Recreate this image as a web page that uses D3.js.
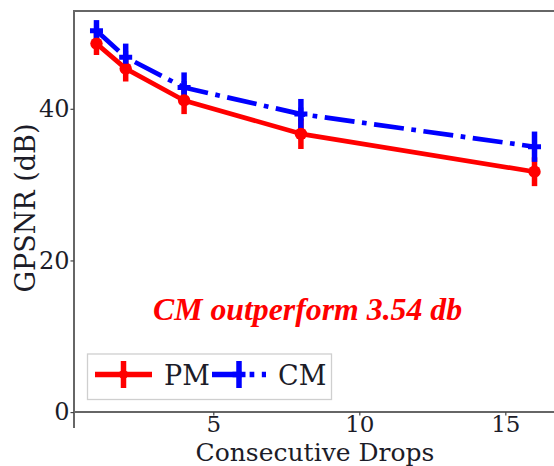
<!DOCTYPE html>
<html>
<head>
<meta charset="utf-8">
<script src="https://cdn.jsdelivr.net/npm/d3@7"></script>
<style>
  html, body { margin: 0; padding: 0; background: #fff; }
  svg { display: block; }
</style>
</head>
<body>
<svg id="chart" width="554" height="466"></svg>
<script>
// Number of consecutive dropped frames
const drops = [1, 2, 4, 8, 16];
// GPSNR (dB) per method, with +/- error
const pmValues = [48.6, 45.3, 41.1, 36.7, 31.7];
const pmErrors = [1.5, 1.7, 1.8, 2.0, 1.9];
const cmValues = [50.3, 46.8, 42.8, 39.3, 35.0];
const cmErrors = [1.4, 1.8, 2.0, 2.0, 2.0];
const xTicks = [5, 10, 15];
const yTicks = [0, 20, 40];
const seriesNames = ["PM", "CM"];

const svg = d3.select("#chart");
const W = 554, H = 466;

const x = d3.scaleLinear().domain([0.23, 16.77]).range([74, 557]);
const y = d3.scaleLinear().domain([-2.1, 52.9]).range([428, 11]);

const serif = "'DejaVu Serif', serif";
const textColor = "#1c1c28";
const spineColor = "#666";

// spines: left, top, and the x-axis drawn at y = 0
svg.append("line").attr("x1", 74).attr("x2", 74).attr("y1", y.range()[1]).attr("y2", y.range()[0])
  .attr("stroke", spineColor).attr("stroke-width", 2);
svg.append("line").attr("x1", 73).attr("x2", W).attr("y1", 11).attr("y2", 11)
  .attr("stroke", spineColor).attr("stroke-width", 2);

// x axis at zero
const xAxis = d3.axisBottom(x).tickValues(xTicks).tickSize(3.5).tickPadding(0.5).tickFormat(d3.format("d"));
const gx = svg.append("g").attr("transform", `translate(0,${y(0)})`).call(xAxis);
gx.select(".domain").attr("d", `M74,0H${W}`).attr("stroke", spineColor).attr("stroke-width", 2);
gx.selectAll(".tick line").attr("stroke", "#444").attr("stroke-width", 1.2);
gx.selectAll(".tick text").attr("font-family", serif).attr("font-size", 23).attr("fill", textColor);

// y axis
const yAxis = d3.axisLeft(y).tickValues(yTicks).tickSize(3.5).tickPadding(1).tickFormat(d3.format("d"));
const gy = svg.append("g").attr("transform", "translate(74,0)").call(yAxis);
gy.select(".domain").remove();
gy.selectAll(".tick line").attr("stroke", "#444").attr("stroke-width", 1.2);
gy.selectAll(".tick text").attr("font-family", serif).attr("font-size", 24).attr("fill", textColor);

// axis titles
svg.append("text").attr("x", 315).attr("y", 461).attr("text-anchor", "middle")
  .attr("font-family", serif).attr("font-size", 25).attr("fill", textColor)
  .text("Consecutive Drops");
svg.append("text").attr("transform", "translate(35,208) rotate(-90)").attr("text-anchor", "middle")
  .attr("font-family", serif).attr("font-size", 27).attr("fill", textColor)
  .text("GPSNR (dB)");

const pm = drops.map((d, i) => ({ x: d, v: pmValues[i], e: pmErrors[i] }));
const cm = drops.map((d, i) => ({ x: d, v: cmValues[i], e: cmErrors[i] }));

const lw = 4.7;
const dashDot = [6.4 * lw, 1.6 * lw, 1 * lw, 1.6 * lw].join(",");

const plot = svg.append("g");

// error bars first (both series), then lines and markers
function errorBars(data, color) {
  plot.append("g").selectAll("line").data(data).join("line")
    .attr("x1", d => x(d.x)).attr("x2", d => x(d.x))
    .attr("y1", d => y(d.v - d.e)).attr("y2", d => y(d.v + d.e))
    .attr("stroke", color).attr("stroke-width", 5.5);
}
errorBars(pm, "#ff0000");
errorBars(cm, "#0000ff");

const line = d3.line().x(d => x(d.x)).y(d => y(d.v));

plot.append("path").datum(pm).attr("d", line)
  .attr("fill", "none").attr("stroke", "#ff0000").attr("stroke-width", lw)
  .attr("stroke-linejoin", "round");
plot.append("g").selectAll("circle").data(pm).join("circle")
  .attr("cx", d => x(d.x)).attr("cy", d => y(d.v)).attr("r", 6.2)
  .attr("fill", "#ff0000");

plot.append("path").datum(cm).attr("d", line)
  .attr("fill", "none").attr("stroke", "#0000ff").attr("stroke-width", lw)
  .attr("stroke-dasharray", dashDot).attr("stroke-linejoin", "round");
const plusHalf = 6.5;
plot.append("g").selectAll("path").data(cm).join("path")
  .attr("d", d => `M${x(d.x) - plusHalf},${y(d.v)}H${x(d.x) + plusHalf}M${x(d.x)},${y(d.v) - plusHalf}V${y(d.v) + plusHalf}`)
  .attr("stroke", "#0000ff").attr("stroke-width", 5).attr("fill", "none");

// annotation
svg.append("text").attr("x", 153).attr("y", 320)
  .attr("font-family", "'Liberation Serif', 'Times New Roman', serif")
  .attr("font-style", "italic").attr("font-weight", "bold")
  .attr("font-size", 31.8).attr("fill", "#ff0000")
  .text(`CM outperform ${(3.54).toFixed(2)} db`);

// legend
const leg = svg.append("g");
leg.append("rect").attr("x", 87.5).attr("y", 354).attr("width", 244).attr("height", 45.5)
  .attr("fill", "#fff").attr("stroke", "#cfcfcf").attr("stroke-width", 1.3);
const legY = 374.5;
const items = [
  { name: seriesNames[0], color: "#ff0000", x0: 95, x1: 152, tx: 164, marker: "circle", dash: null },
  { name: seriesNames[1], color: "#0000ff", x0: 212, x1: 266, tx: 278, marker: "plus", dash: dashDot }
];
items.forEach(it => {
  const cx = (it.x0 + it.x1) / 2;
  leg.append("line").attr("x1", it.x0).attr("x2", it.x1).attr("y1", legY).attr("y2", legY)
    .attr("stroke", it.color).attr("stroke-width", 5.5)
    .attr("stroke-dasharray", it.dash);
  leg.append("line").attr("x1", cx).attr("x2", cx).attr("y1", legY - 13.5).attr("y2", legY + 13.5)
    .attr("stroke", it.color).attr("stroke-width", 5.5);
  if (it.marker === "circle") {
    leg.append("circle").attr("cx", cx).attr("cy", legY).attr("r", 4.5).attr("fill", it.color);
  } else {
    leg.append("path").attr("d", `M${cx - plusHalf},${legY}H${cx + plusHalf}`)
      .attr("stroke", it.color).attr("stroke-width", 5.5);
  }
  leg.append("text").attr("x", it.tx).attr("y", legY + 10)
    .attr("font-family", serif).attr("font-size", 27).attr("fill", textColor)
    .text(it.name);
});
</script>
</body>
</html>
